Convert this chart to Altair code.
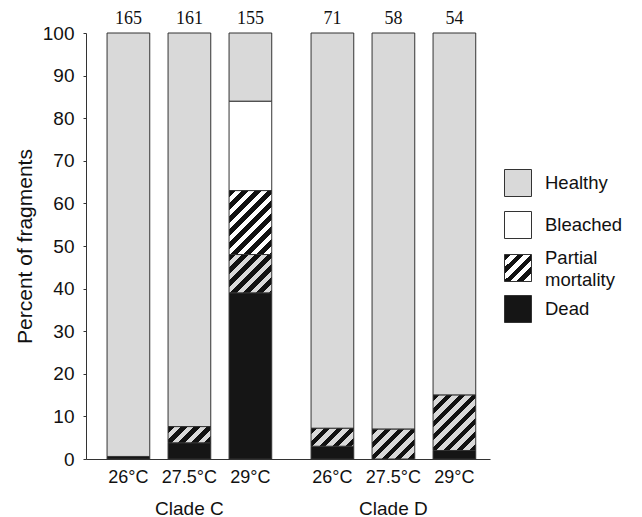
import altair as alt
import pandas as pd

# ---------------- data ----------------
clades = ["Clade C", "Clade C", "Clade C", "Clade D", "Clade D", "Clade D"]
temps = ["26°C", "27.5°C", "29°C", "26°C", "27.5°C", "29°C"]
temp_levels = ["26°C", "27.5°C", "29°C"]
clade_levels = ["Clade C", "Clade D"]
n_fragments = [165, 161, 155, 71, 58, 54]
dead = [0.6, 3.8, 39.0, 3.0, 0.0, 2.0]
partial_healthy = [0.0, 3.8, 9.0, 4.2, 7.0, 13.0]
partial_bleached = [0.0, 0.0, 15.0, 0.0, 0.0, 0.0]
bleached = [0.0, 0.0, 21.0, 0.0, 0.0, 0.0]
healthy = [100 - d - ph - pb - b for d, ph, pb, b in
           zip(dead, partial_healthy, partial_bleached, bleached)]

legend_labels = ["Healthy", "Bleached", "Partial\nmortality", "Dead"]

# ---------------- style ----------------
W, H = 404, 426
GRAY = "#d9d9d9"
BLACK = "#151515"
EDGE = "#333333"
FONT = "Liberation Sans"

# x band geometry (used only to size hatch gradients)
PI_X, PO_X = 0.103, 0.0417
PI_O, PO_O = 0.3, 0.15
step_x = W / (2 - PI_X + 2 * PO_X)
band_x = step_x * (1 - PI_X)
step_o = band_x / (3 - PI_O + 2 * PO_O)
bar_w = step_o * (1 - PI_O)


def hatch(w, h, bg, fg="#111111", period=13.0, frac=0.5):
    k = (w + h) / (w * w + h * h)
    n = (w + h) / period
    stops = []
    i = 0
    while i < n:
        a = i / n
        b = min((i + frac) / n, 1.0)
        c = min((i + 1) / n, 1.0)
        stops += [{"offset": a, "color": fg}, {"offset": b, "color": fg},
                  {"offset": b, "color": bg}, {"offset": c, "color": bg}]
        i += 1
    return {"gradient": "linear", "x1": 0, "y1": 0,
            "x2": w * k, "y2": h * k, "stops": stops}


# ---------------- long table ----------------
rows = []
for i in range(len(clades)):
    base = 0.0
    for kind, vals in [("Dead", dead), ("PartialH", partial_healthy),
                       ("PartialB", partial_bleached), ("Bleached", bleached),
                       ("Healthy", healthy)]:
        v = vals[i]
        if v > 0:
            rows.append({"clade": clades[i], "temp": temps[i], "status": kind,
                         "y0": base, "y1": base + v, "value": v})
        base += v
df = pd.DataFrame(rows)

bars_df = pd.DataFrame({"clade": clades, "temp": temps, "n": n_fragments})

X = alt.X("clade:N",
          scale=alt.Scale(domain=clade_levels, paddingInner=PI_X,
                          paddingOuter=PO_X, align=0.7),
          axis=alt.Axis(title=None, ticks=False, labelFontSize=19,
                        labelPadding=40, labelFont=FONT, labelColor="#111",
                        domainColor=EDGE, labelAngle=0))
XO = alt.XOffset("temp:N",
                 scale=alt.Scale(domain=temp_levels, paddingInner=PI_O,
                                 paddingOuter=PO_O))
Y = alt.Y("y0:Q",
          scale=alt.Scale(domain=[0, 100], nice=False),
          axis=alt.Axis(title="Percent of fragments", values=list(range(0, 101, 10)),
                        tickSize=3, labelFontSize=19, labelPadding=9,
                        labelFont=FONT, labelColor="#111", titleFont=FONT,
                        titleFontSize=21, titleFontWeight="normal",
                        titleColor="#111", titlePadding=7, grid=False,
                        domainColor=EDGE, tickColor=EDGE))

solid = alt.Chart(df[df["status"].isin(["Dead", "Bleached", "Healthy"])]).mark_bar(
    stroke=EDGE, strokeWidth=1).encode(
    x=X, xOffset=XO, y=Y, y2="y1:Q",
    fill=alt.Fill("status:N",
                  scale=alt.Scale(domain=["Healthy", "Bleached", "Dead"],
                                  range=[GRAY, "#ffffff", BLACK]),
                  legend=None))

layers = [solid]
for _, r in df[df["status"].isin(["PartialH", "PartialB"])].iterrows():
    bg = GRAY if r["status"] == "PartialH" else "#ffffff"
    hpx = r["value"] * H / 100.0
    layers.append(
        alt.Chart(pd.DataFrame([r])).mark_bar(
            stroke=EDGE, strokeWidth=1, fill=hatch(bar_w, hpx, bg)).encode(
            x=X, xOffset=XO, y=Y, y2="y1:Q"))

temp_text = alt.Chart(bars_df).mark_text(
    fontSize=18, font=FONT, color="#111", baseline="middle", dy=19).encode(
    x=X, xOffset=XO, y=alt.datum(0), text="temp:N")
count_text = alt.Chart(bars_df).mark_text(
    fontSize=18, font="Liberation Serif", color="#111", baseline="middle",
    dy=-14).encode(
    x=X, xOffset=XO, y=alt.datum(100), text="n:Q")
layers += [temp_text, count_text]

# ---------------- legend ----------------
leg_y = [150, 192, 235, 276]
leg_text_y = [150, 192, 225, 276]
leg_fill = [GRAY, "#ffffff", hatch(27, 27, "#ffffff"), BLACK]
one = pd.DataFrame({"k": [0]})
for lbl, yy, ty, f in zip(legend_labels, leg_y, leg_text_y, leg_fill):
    layers.append(alt.Chart(one).mark_square(
        size=729, fill=f, stroke=EDGE, strokeWidth=1, opacity=1, fillOpacity=1).encode(
        x=alt.value(432), y=alt.value(yy)))
    layers.append(alt.Chart(one).mark_text(
        text=lbl.split("\n") if "\n" in lbl else lbl, align="left",
        baseline="middle", fontSize=18.5, font=FONT, color="#111",
        lineHeight=22).encode(
        x=alt.value(459), y=alt.value(ty)))

chart = alt.layer(*layers).properties(
    width=W, height=H,
    autosize=alt.AutoSizeParams(type="none"),
    padding={"left": 86, "top": 33, "right": 642 - 86 - W, "bottom": 517 - 33 - H},
    background="white",
).configure_view(strokeWidth=0)

chart.save("out.html", embed_options={"renderer": "svg", "actions": False})
